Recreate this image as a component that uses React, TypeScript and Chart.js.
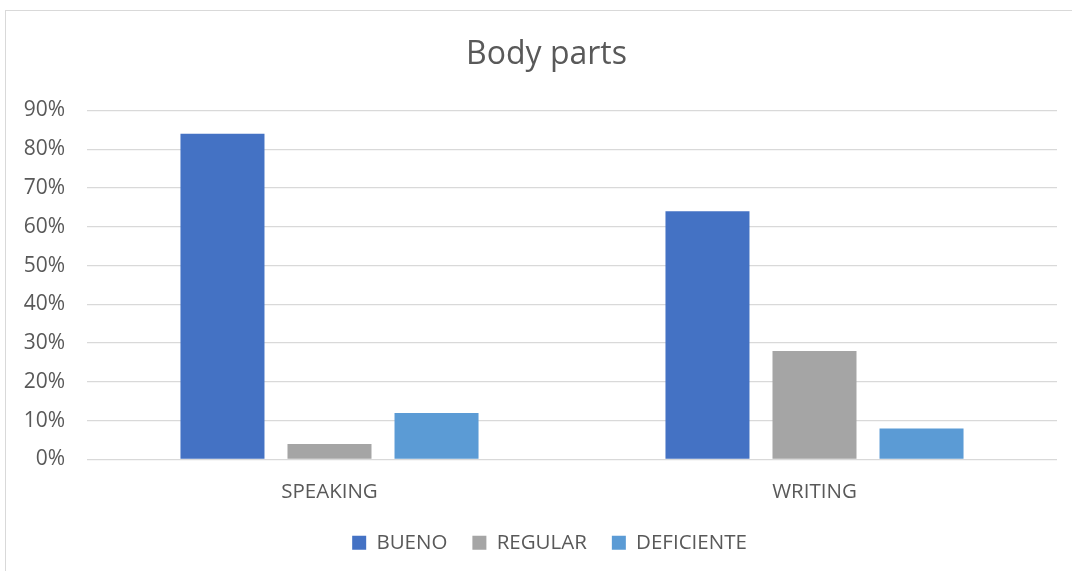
import React, { useEffect, useRef } from "react";
import { Chart, registerables } from "chart.js";

Chart.register(...registerables);

const categories = ["SPEAKING", "WRITING"];
const seriesNames = ["BUENO", "REGULAR", "DEFICIENTE"];
const buenoValues = [84, 64];
const regularValues = [4, 28];
const deficienteValues = [12, 8];
const seriesColors = ["#4472C4", "#A5A5A5", "#5B9BD5"];
const yMax = 90;
const yStep = 10;

const FONT = "'Open Sans', 'Liberation Sans', sans-serif";
const TEXT = "#595959";

// Shifts title and legend horizontally to match the reference's (off-centre) placement.
const shiftBoxes = {
  id: "shiftBoxes",
  afterLayout(chart: any) {
    const t = chart.titleBlock;
    if (t) {
      t.left += 15;
      t.right += 15;
    }
    const l = chart.legend;
    if (l) {
      l.left += 18;
      l.right += 18;
    }
  },
};

export default function App() {
  const ref = useRef<HTMLCanvasElement>(null);

  useEffect(() => {
    document.body.style.margin = "0";
    document.body.style.overflow = "hidden";
    const values = [buenoValues, regularValues, deficienteValues];
    const chart = new Chart(ref.current!, {
      type: "bar",
      data: {
        labels: categories,
        datasets: seriesNames.map((name, i) => ({
          label: name,
          data: values[i],
          backgroundColor: seriesColors[i],
          borderWidth: 0,
          categoryPercentage: 0.662,
          barPercentage: 0.785,
        })),
      },
      plugins: [shiftBoxes],
      options: {
        responsive: false,
        maintainAspectRatio: false,
        animation: false,
        layout: { padding: { left: 0, right: 15, top: 0, bottom: 8 } },
        plugins: {
          tooltip: { enabled: false },
          title: {
            display: true,
            text: "Body parts",
            color: TEXT,
            font: { family: FONT, size: 32, weight: "normal" },
            padding: { top: 25, bottom: 36 },
          },
          legend: {
            position: "bottom",
            labels: {
              boxWidth: 14,
              boxHeight: 14,
              color: TEXT,
              font: { family: FONT, size: 20.5 },
              padding: 25,
            },
          },
        },
        scales: {
          x: {
            grid: { display: false },
            border: { display: false },
            ticks: {
              color: TEXT,
              font: { family: FONT, size: 20.5 },
              padding: 12,
            },
            afterFit: (scale: any) => {
              scale.height = 48;
            },
          },
          y: {
            min: 0,
            max: yMax,
            grid: { color: "#D9D9D9", drawTicks: false, lineWidth: 1.3 },
            border: { display: false },
            ticks: {
              stepSize: yStep,
              color: TEXT,
              font: { family: FONT, size: 21 },
              padding: 22,
              callback: (v: any) => `${v}%`,
            },
            afterFit: (scale: any) => {
              scale.width = 81;
            },
          },
        },
      },
    });
    return () => chart.destroy();
  }, []);

  return (
    <div
      style={{
        position: "absolute",
        left: 5,
        top: 10,
        width: 1067,
        height: 561,
        borderLeft: "1px solid #D9D9D9",
        borderTop: "1px solid #D9D9D9",
        boxSizing: "border-box",
        background: "#fff",
      }}
    >
      <canvas
        ref={ref}
        width={1066}
        height={560}
        style={{ display: "block", width: 1066, height: 560 }}
      />
    </div>
  );
}
